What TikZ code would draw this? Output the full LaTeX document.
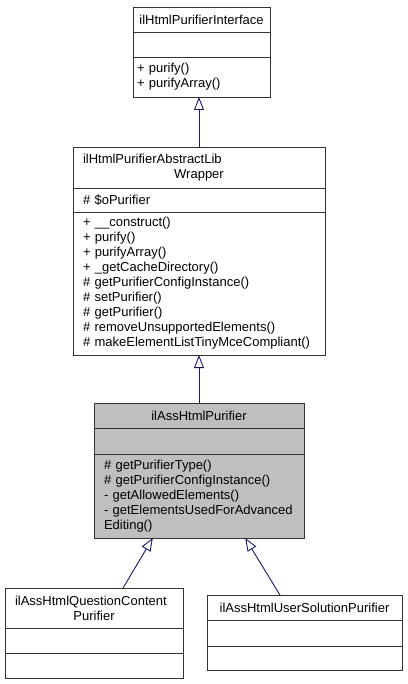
\documentclass[tikz,border=0pt]{standalone}
\usepackage{fontspec}
\setmainfont{Liberation Sans}
\usepackage{xcolor}
\usepackage{tikz}
\usetikzlibrary{positioning,arrows.meta,calc}

\definecolor{edgeblue}{HTML}{191970}

\begin{document}
\begin{tikzpicture}[
    x=1pt, y=-1pt,
    cls/.style    = {rectangle, draw=black!80, fill=white, outer sep=0pt,
                     inner xsep=10pt, inner ysep=3pt, align=left,
                     font=\fontsize{13}{15}\selectfont},
    hdr/.style    = {cls, align=center},
    cur/.style    = {fill=black!25},
    inh/.style    = {-{Triangle[open, length=13pt, width=10pt]}, draw=edgeblue,
                     line width=0.9pt},
]
\useasboundingbox (0,0) rectangle (407,684);

% =============================== interface ===============================
\node[hdr, anchor=north west, inner xsep=4pt, text width=129pt, minimum height=25pt] (iface)
     at (133,7) {ilHtmlPurifierInterface};
\node[cls, below=0pt of iface, inner xsep=4pt, text width=129pt, minimum height=25pt] (iface-a) {};
\node[cls, below=0pt of iface-a, inner xsep=4pt, text width=129pt, minimum height=40pt] (iface-m)
     {+ purify()\\+ purifyArray()};

% =============================== abstract wrapper ========================
\node[cls, anchor=north west, text width=232pt, minimum height=41pt] (wrap) at (73,147)
     {ilHtmlPurifierAbstractLib\\\makebox[\hsize]{Wrapper}};
\node[cls, below=0pt of wrap, text width=232pt, minimum height=24pt] (wrap-a)
     {\# \$oPurifier};
\node[cls, below=0pt of wrap-a, text width=232pt, minimum height=143pt] (wrap-m)
     {+ \_\_construct()\\+ purify()\\+ purifyArray()\\+ \_getCacheDirectory()\\
      \# getPurifierConfigInstance()\\\# setPurifier()\\\# getPurifier()\\
      \# removeUnsupportedElements()\\\# makeElementListTinyMceCompliant()};

% =============================== current class ===========================
\node[hdr, cur, anchor=north west, text width=190pt, minimum height=25pt] (ass) at (94,403)
     {ilAssHtmlPurifier};
\node[cls, cur, below=0pt of ass, text width=190pt, minimum height=26pt] (ass-a) {};
\node[cls, cur, below=0pt of ass-a, text width=190pt, minimum height=84pt] (ass-m)
     {\# getPurifierType()\\\# getPurifierConfigInstance()\\- getAllowedElements()\\
      - getElementsUsedForAdvanced\\Editing()};

% =============================== subclasses ==============================
\node[cls, anchor=north west, text width=158pt, minimum height=40pt] (qc) at (5,588)
     {ilAssHtmlQuestionContent\\\makebox[\hsize]{Purifier}};
\node[cls, below=0pt of qc, text width=158pt, minimum height=25pt] (qc-a) {};
\node[cls, below=0pt of qc-a, text width=158pt, minimum height=25pt] (qc-m) {};

\node[hdr, anchor=north west, text width=175pt, minimum height=25pt] (us) at (207,595)
     {ilAssHtmlUserSolutionPurifier};
\node[cls, below=0pt of us, text width=175pt, minimum height=26pt] (us-a) {};
\node[cls, below=0pt of us-a, text width=175pt, minimum height=24pt] (us-m) {};

% inheritance arrows
\draw[inh] (wrap.north) -- (wrap.north |- iface-m.south);
\draw[inh] (ass.north) -- (wrap-m.south);
\draw[inh] ($(qc.north west)!0.663!(qc.north east)$)
        -- ($(ass-m.south west)!0.28!(ass-m.south east)$);
\draw[inh] ($(us.north west)!0.374!(us.north east)$)
        -- ($(ass-m.south west)!0.72!(ass-m.south east)$);

\end{tikzpicture}
\end{document}
